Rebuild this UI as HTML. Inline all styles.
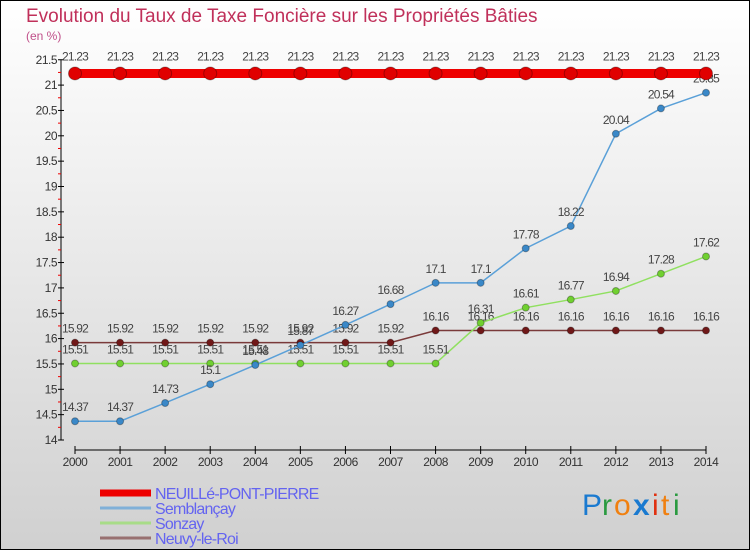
<!DOCTYPE html>
<html><head><meta charset="utf-8"><style>
html,body{margin:0;padding:0;}
body{width:750px;height:550px;overflow:hidden;}
svg{display:block;font-family:"Liberation Sans",sans-serif;}
</style></head><body>
<svg id="chart" width="750" height="550" viewBox="0 0 750 550" xmlns="http://www.w3.org/2000/svg">
<defs><linearGradient id="bg" x1="0" y1="0" x2="0" y2="1"><stop offset="0" stop-color="#ffffff"/><stop offset="1" stop-color="#d0d0d0"/></linearGradient></defs>
<rect x="0.5" y="0.5" width="749" height="549" fill="url(#bg)" stroke="#000" stroke-width="1"/>
<text x="26" y="22" font-size="19" fill="#c0305a">Evolution du Taux de Taxe Foncière sur les Propriétés Bâties</text>
<text x="26" y="40" font-size="12" fill="#c0508a">(en %)</text>
<g id="axes"></g>
<g id="series"></g>
<g id="legend"></g>
<g font-size="30" font-family="'Liberation Sans',sans-serif">
<text x="582" y="515" fill="#1a7ad0">P</text><text x="602" y="515" fill="#2a9a40">r</text><text x="614" y="515" fill="#f08010">o</text><text x="633" y="515" fill="#1a7ad0" font-weight="bold">x</text><text x="652" y="515" fill="#e03010">i</text><text x="661" y="515" fill="#f08010">t</text><text x="673" y="515" fill="#2a9a40">i</text>
</g>
</svg>
<script>
const years=[2000,2001,2002,2003,2004,2005,2006,2007,2008,2009,2010,2011,2012,2013,2014];
const neuille=[21.23,21.23,21.23,21.23,21.23,21.23,21.23,21.23,21.23,21.23,21.23,21.23,21.23,21.23,21.23];
const semblancay=[14.37,14.37,14.73,15.1,15.48,15.87,16.27,16.68,17.1,17.1,17.78,18.22,20.04,20.54,20.85];
const sonzay=[15.51,15.51,15.51,15.51,15.51,15.51,15.51,15.51,15.51,16.31,16.61,16.77,16.94,17.28,17.62];
const neuvy=[15.92,15.92,15.92,15.92,15.92,15.92,15.92,15.92,16.16,16.16,16.16,16.16,16.16,16.16,16.16];
const yTicks=[14,14.5,15,15.5,16,16.5,17,17.5,18,18.5,19,19.5,20,20.5,21,21.5];
const NS="http://www.w3.org/2000/svg";
const x=i=>75+i*(706-75)/(years.length-1);
const y=v=>440-(v-14)*50.7;
function mk(tag,attrs,parent){const e=document.createElementNS(NS,tag);for(const k in attrs)e.setAttribute(k,attrs[k]);parent.appendChild(e);return e;}
const axes=document.getElementById('axes');
const ya=mk('line',{x1:61,y1:y(21.5),x2:61,y2:440,stroke:'#000'},axes);


yTicks.forEach(v=>{
 mk('line',{x1:58,x2:64,y1:y(v),y2:y(v),stroke:'#000'},axes);
 const t=mk('text',{x:57,y:y(v)+4,'font-size':12,'text-anchor':'end',fill:'#333','letter-spacing':'-0.5'},axes);
 t.textContent=String(v);
 
 
 if(v<21.5){mk('line',{x1:58,x2:61,y1:y(v+0.25),y2:y(v+0.25),stroke:'#e00'},axes);}
});
const xa=mk('line',{x1:75,y1:450,x2:706,y2:450,stroke:'#000'},axes);


years.forEach((yr,i)=>{
 mk('line',{x1:x(i),x2:x(i),y1:446,y2:454,stroke:'#000'},axes);
 const t=mk('text',{x:x(i),y:466,'font-size':12,'text-anchor':'middle',fill:'#333','letter-spacing':'-0.5'},axes);
 t.textContent=yr;
 
 
});
const seriesG=document.getElementById('series');
function drawSeries(vals,color,lw,r,name,fillDot,off){
 const g=mk('g',{},seriesG);
 
 
 const p=mk('polyline',{points:vals.map((v,i)=>x(i)+','+y(v)).join(' '),fill:'none',stroke:color,'stroke-width':lw},g);
 
 
 vals.forEach((v,i)=>{
  const c=mk('circle',{cx:x(i),cy:y(v),r:r,fill:fillDot,stroke:'rgba(0,0,0,0.3)','stroke-width':1},g);
  
  
  const t=mk('text',{x:x(i),y:y(v)-off,'font-size':12,'text-anchor':'middle',fill:'#444','letter-spacing':'-0.8'},g);
  t.textContent=String(v);
  
  
 });
}
drawSeries(neuvy,'#7a3a3a',1.5,3.5,'neuvy-le-roi','#701818',10);
drawSeries(sonzay,'#90e060',1.5,3.5,'sonzay','#70d030',10);
drawSeries(semblancay,'#5aa0d8',1.5,3.5,'semblancay','#3a88c8',10);
drawSeries(neuille,'#ee0000',9,6.5,'neuille-pont-pierre','#e00000',13);
const lg=document.getElementById('legend');
const items=[['NEUILLé-PONT-PIERRE','#ee0000',7],['Semblançay','#80b0d8',3],['Sonzay','#a8dc88',3],['Neuvy-le-Roi','#987070',3]];
items.forEach((it,k)=>{
 const yy=493+k*15;
 const l=mk('line',{x1:100,x2:151,y1:yy,y2:yy,stroke:it[1],'stroke-width':it[2]},lg);
 
 
 const t=mk('text',{x:155,y:yy+6,'font-size':16,fill:'#6464f0','letter-spacing':'-0.8'},lg);
 t.textContent=it[0];
 
 
});
</script>
</body></html>
